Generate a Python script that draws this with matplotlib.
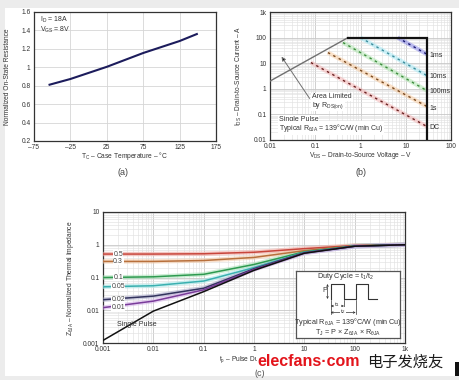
import matplotlib
matplotlib.use('Agg')
import matplotlib.pyplot as plt
from matplotlib.patches import Rectangle
from matplotlib.ticker import FixedLocator, FixedFormatter, LogLocator, NullFormatter

plt.rcParams['font.family'] = ['Liberation Sans', 'DejaVu Sans']
plt.rcParams['mathtext.fontset'] = 'custom'
plt.rcParams['mathtext.rm'] = 'Liberation Sans'
plt.rcParams['mathtext.it'] = 'Liberation Sans:italic'
plt.rcParams['mathtext.bf'] = 'Liberation Sans:bold'

# ---------------- data ----------------
# (a) normalized on-state resistance vs case temperature
temp_c = [-55, -25, 25, 75, 125, 150]
rds_norm = [0.808, 0.873, 1.005, 1.155, 1.285, 1.365]
a_xticks = [-75, -25, 25, 75, 125, 175]
a_xlabels = ['\u201375', '\u201325', '25', '75', '125', '175']
a_yticks = [0.2, 0.4, 0.6, 0.8, 1.0, 1.2, 1.4, 1.6]
a_ylabels = ['0.2', '0.4', '0.6', '0.8', '1', '1.2', '1.4', '1.6']

# (b) safe operating area
rds_v = [0.01, 0.53]
rds_i = [2.0, 100]
box_v = [0.53, 30, 30]
box_i = [100, 100, 0.01]
soa_names = ['1ms', '10ms', '100ms', '1s', 'DC']
soa_v = [[6.6, 30], [1.0, 30], [0.41, 30], [0.19, 30], [0.08, 30]]
soa_i = [[100, 22], [100, 3.2], [64, 0.83], [26, 0.2], [10.6, 0.033]]
soa_label_i = [20, 3.0, 0.8, 0.17, 0.032]
b_xticks = [0.01, 0.1, 1, 10, 100]
b_xlabels = ['0.01', '0.1', '1', '10', '100']
b_yticks = [0.01, 0.1, 1, 10, 100, 1000]
b_ylabels = ['0.01', '0.1', '1', '10', '100', '1k']

# (c) transient thermal impedance
tp = [0.001, 0.01, 0.1, 1, 10, 100, 1000]
duty_names = ['0.5', '0.3', '0.1', '0.05', '0.02', '0.01', 'Single Pulse']
z_curves = [
    [0.52, 0.52, 0.53, 0.59, 0.76, 0.95, 1.0],
    [0.31, 0.31, 0.33, 0.41, 0.66, 0.93, 1.0],
    [0.100, 0.105, 0.125, 0.25, 0.61, 0.92, 1.0],
    [0.052, 0.056, 0.078, 0.20, 0.59, 0.91, 1.0],
    [0.021, 0.027, 0.047, 0.185, 0.57, 0.90, 1.0],
    [0.012, 0.019, 0.042, 0.175, 0.56, 0.90, 1.0],
    [0.0012, 0.0094, 0.037, 0.165, 0.55, 0.90, 1.0],
]
c_xticks = [0.001, 0.01, 0.1, 1, 10, 100, 1000]
c_xlabels = ['0.001', '0.01', '0.1', '1', '10', '100', '1k']
c_yticks = [0.001, 0.01, 0.1, 1, 10]
c_ylabels = ['0.001', '0.01', '0.1', '1', '10']

# ---------------- figure ----------------
W, H = 459, 380
fig = plt.figure(figsize=(W / 100, H / 100), dpi=100, facecolor='#ececec')
fig.patches.append(Rectangle((5 / W, 4 / H), 1 - 5 / W, 368 / H, transform=fig.transFigure,
                             facecolor='white', edgecolor='none', zorder=-10))
fig.patches.append(Rectangle((455 / W, 4 / H), 4 / W, 14 / H, transform=fig.transFigure,
                             facecolor='#111111', edgecolor='none', zorder=5))


def fx(px):
    return px / W


def fy(py):
    return 1 - py / H


def rect(l, t, r, b):
    return [l / W, 1 - b / H, (r - l) / W, (b - t) / H]


TXT = '#333333'
FS = 4.8


def style(ax):
    for s in ax.spines.values():
        s.set_color('#333333')
        s.set_linewidth(0.9)
    ax.tick_params(which='both', length=0, labelsize=FS, colors=TXT, pad=2.5)
    ax.set_axisbelow(True)


# ---- (a) ----
ax1 = fig.add_axes(rect(34, 12, 216, 141))
style(ax1)
ax1.plot(temp_c, rds_norm, color='#1c1c5c', lw=1.5, solid_capstyle='butt')
ax1.set_xlim(-75, 175)
ax1.set_ylim(0.2, 1.6)
ax1.xaxis.set_major_locator(FixedLocator(a_xticks))
ax1.xaxis.set_major_formatter(FixedFormatter(a_xlabels))
ax1.yaxis.set_major_locator(FixedLocator(a_yticks))
ax1.yaxis.set_major_formatter(FixedFormatter(a_ylabels))
ax1.grid(color='#d6d6d6', lw=0.6)
ax1.text(0.035, 0.94, r'I$_\mathrm{D}$ = 18A', transform=ax1.transAxes, fontsize=5, color=TXT, va='center')
ax1.text(0.035, 0.865, r'V$_\mathrm{GS}$ = 8V', transform=ax1.transAxes, fontsize=5, color=TXT, va='center')
fig.text(fx(7.5), fy(76.5), 'Normalized On-State Resistance', rotation=90, ha='center', va='center',
         fontsize=FS, color=TXT)
fig.text(fx(124), fy(156), 'T$_\\mathrm{C}$ \u2013 Case Temperature \u2013 \u00b0C',
         ha='center', va='center', fontsize=FS, color=TXT)
fig.text(fx(123), fy(172), '(a)', ha='center', va='center', fontsize=6.5, color='#444444')

# ---- (b) ----
ax2 = fig.add_axes(rect(270, 12, 451, 140))
style(ax2)
ax2.set_xscale('log')
ax2.set_yscale('log')
ax2.set_xlim(0.01, 100)
ax2.set_ylim(0.01, 1000)
ax2.xaxis.set_major_locator(FixedLocator(b_xticks))
ax2.xaxis.set_major_formatter(FixedFormatter(b_xlabels))
ax2.yaxis.set_major_locator(FixedLocator(b_yticks))
ax2.yaxis.set_major_formatter(FixedFormatter(b_ylabels))
ax2.xaxis.set_minor_locator(LogLocator(base=10, subs=range(2, 10)))
ax2.yaxis.set_minor_locator(LogLocator(base=10, subs=range(2, 10)))
ax2.xaxis.set_minor_formatter(NullFormatter())
ax2.yaxis.set_minor_formatter(NullFormatter())
ax2.grid(which='major', color='#c8c8c8', lw=0.6)
ax2.grid(which='minor', color='#e2e2e2', lw=0.45)

halo_cols = ['#8080e8', '#a0e8f4', '#a8e4a8', '#f8c898', '#f4b0b0']
dash_cols = ['#1a1a70', '#3c8c9c', '#3c8c3c', '#7a4a20', '#6a2020']
for name, v, i, hc, dc, li in zip(soa_names, soa_v, soa_i, halo_cols, dash_cols, soa_label_i):
    ax2.plot(v, i, color=hc, lw=3.0, alpha=0.5, solid_capstyle='butt', zorder=3)
    ax2.plot(v, i, color=dc, lw=1.0, dashes=(1.8, 2.6), zorder=4)
    ax2.text(33, li, name, fontsize=5, color=TXT, va='center', ha='left', zorder=6)
ax2.plot(rds_v, rds_i, color='#707070', lw=1.0, zorder=4)
ax2.plot(box_v, box_i, color='#111111', lw=1.6, zorder=5, solid_joinstyle='miter')
ax2.annotate('', xy=(0.018, 18), xytext=(0.075, 0.42),
             arrowprops=dict(arrowstyle='-|>', color='#707070', lw=0.7, shrinkA=0, shrinkB=0,
                             mutation_scale=6, fc='#111111'), zorder=6)
ax2.text(0.085, 0.48, 'Area Limited', fontsize=5, color=TXT, va='center', ha='left', zorder=6,
         bbox=dict(facecolor='white', edgecolor='none', pad=0.6))
ax2.text(0.085, 0.23, r'by R$_\mathrm{DS(on)}$', fontsize=5, color=TXT, va='center', ha='left', zorder=6,
         bbox=dict(facecolor='white', edgecolor='none', pad=0.6))
ax2.text(0.0155, 0.062, 'Single Pulse', fontsize=5, color=TXT, va='center', ha='left', zorder=6,
         bbox=dict(facecolor='white', edgecolor='none', pad=0.6))
ax2.text(0.0155, 0.030, 'Typical R$_{\\mathrm{\u03b8JA}}$ = 139\u00b0C/W (min Cu)', fontsize=5, color=TXT,
         va='center', ha='left', zorder=6, bbox=dict(facecolor='white', edgecolor='none', pad=0.6))
fig.text(fx(239), fy(76), 'I$_\\mathrm{DS}$ \u2013 Drain-to-Source Current \u2013 A', rotation=90,
         ha='center', va='center', fontsize=FS, color=TXT)
fig.text(fx(361), fy(156), 'V$_\\mathrm{DS}$ \u2013 Drain-to-Source Voltage \u2013 V',
         ha='center', va='center', fontsize=FS, color=TXT)
fig.text(fx(361), fy(172), '(b)', ha='center', va='center', fontsize=6.5, color='#444444')

# ---- (c) ----
ax3 = fig.add_axes(rect(103, 212, 405, 343))
style(ax3)
ax3.set_xscale('log')
ax3.set_yscale('log')
ax3.set_xlim(0.001, 1000)
ax3.set_ylim(0.001, 10)
ax3.xaxis.set_major_locator(FixedLocator(c_xticks))
ax3.xaxis.set_major_formatter(FixedFormatter(c_xlabels))
ax3.yaxis.set_major_locator(FixedLocator(c_yticks))
ax3.yaxis.set_major_formatter(FixedFormatter(c_ylabels))
ax3.xaxis.set_minor_locator(LogLocator(base=10, subs=range(2, 10)))
ax3.yaxis.set_minor_locator(LogLocator(base=10, subs=range(2, 10)))
ax3.xaxis.set_minor_formatter(NullFormatter())
ax3.yaxis.set_minor_formatter(NullFormatter())
ax3.tick_params(axis='x', pad=2)
ax3.grid(which='major', color='#c8c8c8', lw=0.6)
ax3.grid(which='minor', color='#e2e2e2', lw=0.45)

line_cols = ['#c8463c', '#b8703c', '#2e9a50', '#3ab0b0', '#33335e', '#7a3c9a', '#111111']
halo_c = ['#f4a8a0', '#f4c8a4', '#a4e0b4', '#a4e8e8', '#a8a8c8', '#d4b0e8', None]
for name, z, lc, hc in zip(duty_names, z_curves, line_cols, halo_c):
    if hc is not None:
        ax3.plot(tp, z, color=hc, lw=3.2, alpha=0.55, zorder=3)
    ax3.plot(tp, z, color=lc, lw=1.1, zorder=4)
    if name != 'Single Pulse':
        ax3.text(0.0020, z[0], name, fontsize=5, color='#444444', ha='center', va='center', zorder=6,
                 bbox=dict(facecolor='white', edgecolor='none', pad=0.3))
ax3.text(0.0046, 0.0038, 'Single Pulse', fontsize=5, color='#333333', ha='center', va='center', zorder=6)

fig.text(fx(70), fy(278), 'Z$_{\\mathrm{\u03b8JA}}$ \u2013 Normalized Thermal Impedance', rotation=90,
         ha='center', va='center', fontsize=FS, color=TXT)
fig.text(fx(219), fy(360), 't$_\\mathrm{p}$ \u2013 Pulse Duration \u2013 s', ha='left', va='center',
         fontsize=FS, color=TXT)
fig.text(fx(260), fy(373), '(c)', ha='center', va='center', fontsize=6.5, color='#555555')

# inset box
ax4 = fig.add_axes(rect(296, 271, 400, 338))
ax4.set_xlim(0, 104)
ax4.set_ylim(67, 0)
ax4.set_xticks([])
ax4.set_yticks([])
ax4.set_facecolor('white')
ax4.set_zorder(5)
for s in ax4.spines.values():
    s.set_color('#555555')
    s.set_linewidth(0.9)
ax4.plot([34.7, 34.7, 48, 48, 59.7, 59.7, 72.3, 72.3, 80.7], [28, 13, 13, 28, 28, 13, 13, 28, 28],
         color='#333333', lw=0.8)
ax4.annotate('', xy=(31.5, 13), xytext=(31.5, 28),
             arrowprops=dict(arrowstyle='<->', lw=0.5, color='#333333', mutation_scale=3, shrinkA=0, shrinkB=0))
ax4.text(28.5, 20, 'P', fontsize=5, color=TXT, ha='center', va='center')
for xv, y2 in [(34.7, 43), (48, 37), (59.7, 43)]:
    ax4.plot([xv, xv], [29, y2], color='#333333', lw=0.5)
ax4.annotate('', xy=(34.7, 35), xytext=(48, 35),
             arrowprops=dict(arrowstyle='<->', lw=0.5, color='#333333', mutation_scale=3, shrinkA=0, shrinkB=0))
ax4.annotate('', xy=(34.7, 41.5), xytext=(59.7, 41.5),
             arrowprops=dict(arrowstyle='<->', lw=0.5, color='#333333', mutation_scale=3, shrinkA=0, shrinkB=0))
ax4.text(41.3, 34, 't$_\\mathrm{1}$', fontsize=4.5, color=TXT, ha='center', va='center',
         bbox=dict(facecolor='white', edgecolor='none', pad=0.2))
ax4.text(47.2, 41, 't$_\\mathrm{2}$', fontsize=4.5, color=TXT, ha='center', va='center',
         bbox=dict(facecolor='white', edgecolor='none', pad=0.2))
ax4.text(50, 6, 'Duty Cycle = t$_\\mathrm{1}$/t$_\\mathrm{2}$', fontsize=5.2, color=TXT, ha='center', va='center')
ax4.text(52, 51, 'Typical R$_{\\mathrm{\u03b8JA}}$ = 139\u00b0C/W (min Cu)', fontsize=5.2, color=TXT,
         ha='center', va='center')
ax4.text(52, 61.5, 'T$_\\mathrm{J}$ = P \u00d7 Z$_{\\mathrm{\u03b8JA}}$ \u00d7 R$_{\\mathrm{\u03b8JA}}$', fontsize=5.2,
         color=TXT, ha='center', va='center')

# watermark
fig.text(fx(257), fy(366.5), 'elecfans\u00b7com', color='#e3141b', fontsize=11.5, fontweight='bold',
         ha='left', va='baseline', zorder=10,
         bbox=dict(facecolor='white', edgecolor='none', pad=0.0))
fig.text(fx(367), fy(362), '\u7535\u5b50\u53d1\u70e7\u53cb', color='#1a1a1a', fontsize=11,
         family=['Noto Sans CJK SC', 'DejaVu Sans'], ha='left', va='center', zorder=10)

fig.savefig('out.png', dpi=100, facecolor=fig.get_facecolor())
